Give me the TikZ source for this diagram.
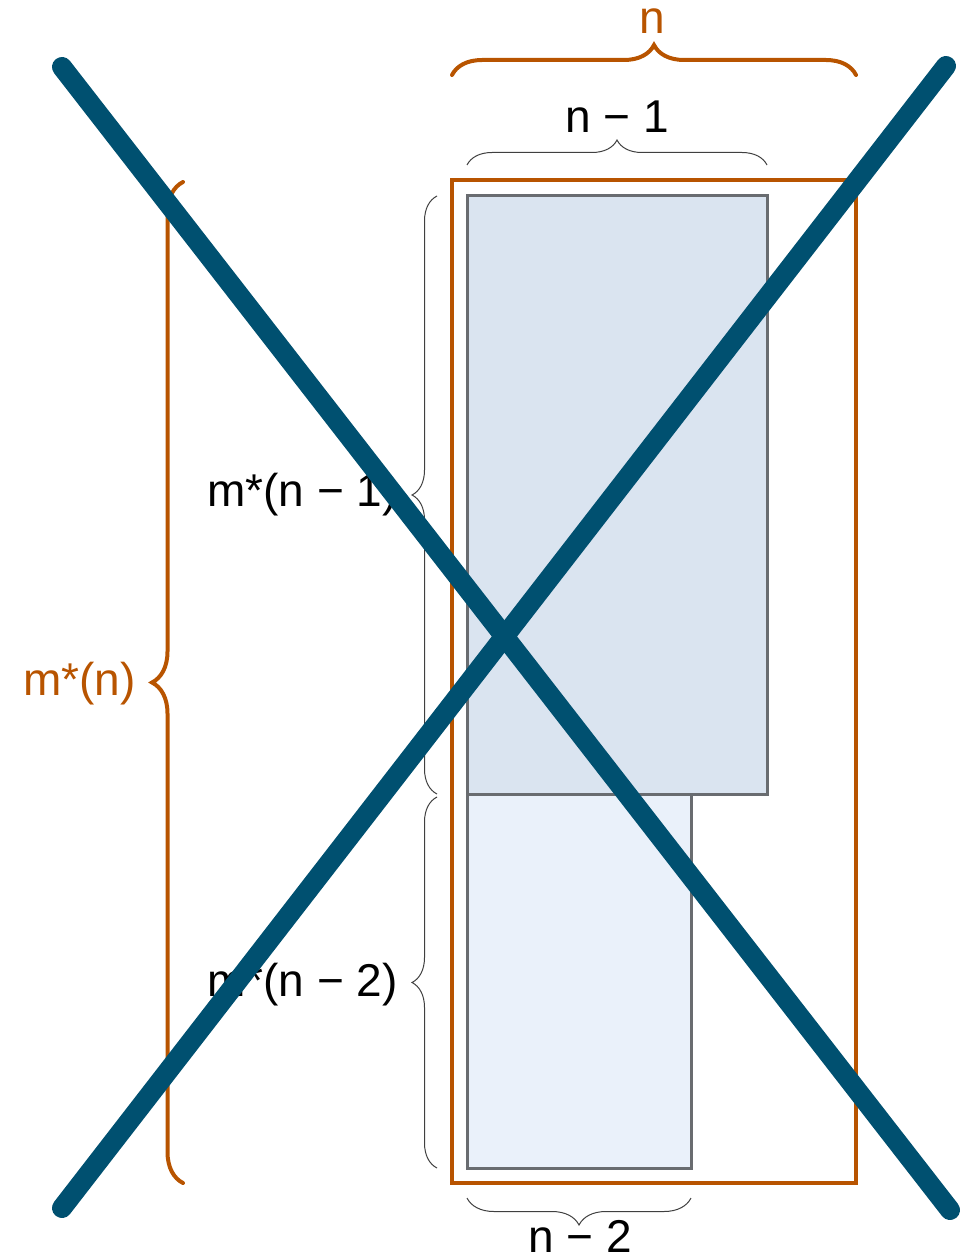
\documentclass[tikz,border=0pt]{standalone}
\usepackage{fontspec}
\setmainfont{Liberation Sans}
\usetikzlibrary{decorations.pathreplacing}
\definecolor{orng}{RGB}{184,84,0}
\definecolor{xblue}{RGB}{0,80,112}
\definecolor{boxgray}{RGB}{105,108,112}
\definecolor{fillA}{RGB}{218,228,240}
\definecolor{fillB}{RGB}{234,241,250}
\tikzset{
  lbl/.style={inner sep=0pt, font=\fontsize{46}{54}\selectfont},
  obox/.style={draw=orng, line width=4pt, inner sep=0pt, outer sep=0pt, anchor=north west},
  gbox/.style={draw=boxgray, line width=3pt, inner sep=0pt, outer sep=0pt, anchor=north west},
  obrace/.style={draw=orng, line width=4pt, line cap=round, decorate, decoration={brace, amplitude=#1}},
  kbrace/.style={draw=black!75, line width=1pt, decorate, decoration={brace, amplitude=#1}},
  xline/.style={draw=xblue, line width=20pt, line cap=round}
}
\begin{document}
\begin{tikzpicture}[x=1pt,y=-1pt]
\useasboundingbox (0,0) rectangle (961,1260);
% boxes
\node[obox, minimum width=404pt, minimum height=1003pt] (outer) at (452,180) {};
\node[gbox, fill=fillA, minimum width=300pt, minimum height=598pt] (top) at (467,196) {};
\node[gbox, fill=fillB, minimum width=224pt, minimum height=374pt] (bot) at (467,794) {};
% brace anchor points
\coordinate (tnL) at (452,75);
\coordinate (tnR) at (856,75);
\coordinate (t1L) at (467,165);
\coordinate (t1R) at (767,165);
\coordinate (l1B) at (437,794);
\coordinate (l1T) at (437,196);
\coordinate (l2B) at (437,1168);
\coordinate (l2T) at (437,797);
\coordinate (loB) at (183,1183);
\coordinate (loT) at (183,182);
\coordinate (b2R) at (691,1198);
\coordinate (b2L) at (467,1198);
% braces
\draw[obrace=30pt] (tnL) -- (tnR);
\draw[kbrace=25pt] (t1L) -- (t1R);
\draw[kbrace=25pt] (l1B) -- (l1T);
\draw[kbrace=25pt] (l2B) -- (l2T);
\draw[obrace=31pt] (loB) -- (loT);
\draw[kbrace=27pt] (b2R) -- (b2L);
% labels
\node[lbl, text=orng, anchor=base] (ln) at (652,34) {n};
\node[lbl, anchor=base] (ln1) at (617,133) {n − 1};
\node[lbl, anchor=base east] (lm1) at (398,506) {m*(n − 1)};
\node[lbl, anchor=base east] (lm2) at (398,996) {m*(n − 2)};
\node[lbl, text=orng, anchor=base east] (lmn) at (136,695) {m*(n)};
\node[lbl, anchor=base] (ln2) at (580,1252) {n − 2};
% big X
\coordinate (xa) at (62,67);
\coordinate (xb) at (950,1210);
\coordinate (xc) at (62,1208);
\coordinate (xd) at (946,66);
\draw[xline] (xa) -- (xb);
\draw[xline] (xc) -- (xd);
\end{tikzpicture}
\end{document}
